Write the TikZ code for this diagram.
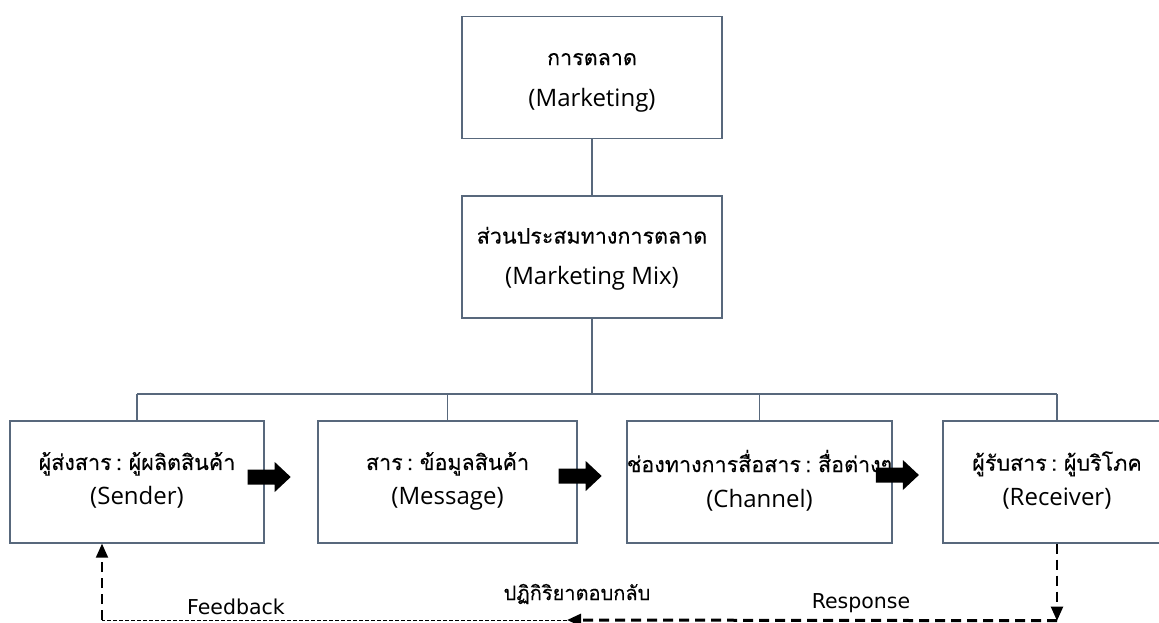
\documentclass[tikz,border=0pt]{standalone}
\usepackage{fontspec}
\setmainfont{Open Sans}
\newfontfamily\thaifont[Script=Thai, WordSpace=0.6, FakeBold=0.3]{Loma}
\newfontfamily\labelfont{DejaVu Sans}
\usetikzlibrary{arrows.meta,calc}
\definecolor{boxline}{RGB}{88,104,124}
\newcommand{\thailine}[1]{{\thaifont\fontsize{21.5}{21.5}\selectfont #1}}
\newcommand{\lowpad}{\rule[-7pt]{0pt}{0pt}}
\newcommand{\toppad}{\rule[-1pt]{0pt}{0pt}}
\tikzset{
  box/.style={draw=boxline, line width=1.4pt, fill=white, minimum height=122pt,
    inner sep=0pt, align=center, font=\fontsize{24}{41}\selectfont},
  lowbox/.style={box, font=\fontsize{24}{35}\selectfont},
  link/.style={draw=boxline, line width=1.4pt},
  pics/fatarrow/.style={code={
    \fill[black] (0,-7.5) -- (27,-7.5) -- (27,-15) -- (43,0) -- (27,15)
      -- (27,7.5) -- (0,7.5) -- cycle;}},
  fbtip/.style={-{Triangle[length=14pt,width=12pt]}},
  fbvert/.style={line width=2pt, dash pattern=on 10pt off 6pt},
  fbthick/.style={line width=3pt, dash pattern=on 10pt off 6pt},
  fbthin/.style={line width=1pt, dash pattern=on 4pt off 2pt},
  fblabel/.style={inner sep=0pt, font=\labelfont\fontsize{20.5}{22}\selectfont}
}
\begin{document}
\begin{tikzpicture}[x=1pt,y=-1pt]
\useasboundingbox (0,0) rectangle (1159,622);

% hierarchy boxes
\node[box, minimum width=260pt] (mkt) at (592,77.5)
  {\rule{0pt}{22pt}\thailine{การตลาด}\\(Marketing)\toppad};
\node[box, minimum width=260pt] (mix) at (592,257)
  {\rule{0pt}{20pt}\thailine{ส่วนประสมทางการตลาด}\\(Marketing Mix)\toppad};

% communication chain
\node[lowbox, minimum width=254pt] (send) at (137,482)
  {\thailine{ผู้ส่งสาร : ผู้ผลิตสินค้า}\\(Sender)\lowpad};
\node[lowbox, minimum width=259pt] (msg) at (447.5,482)
  {\thailine{สาร : ข้อมูลสินค้า}\\(Message)\lowpad};
\node[lowbox, minimum width=259pt] (chan) at (759.5,482)
  {\thailine{ช่องทางการสื่อสาร : สื่อต่างๆ}\\(Channel)\lowpad};
\node[lowbox, minimum width=228pt] (recv) at (1057,482)
  {\thailine{ผู้รับสาร : ผู้บริโภค}\\(Receiver)\lowpad};

% tree connectors
\coordinate (bus) at (592,394);
\draw[link] (mkt.south) -- (mix.north);
\draw[link] (mix.south) -- (bus);
\draw[link] (send.north |- bus) -- (recv.north |- bus);
\foreach \b in {send,msg,chan,recv}
  \draw[link] (\b.north |- bus) -- (\b.north);

% block arrows between the chain boxes
\pic at ($(send.east)+(-17,-5)$) {fatarrow};
\pic at ($(msg.east)+(-19,-6)$) {fatarrow};
\pic at ($(chan.east)+(-17,-7)$) {fatarrow};

% response / feedback loop
\coordinate (rc) at ($(recv.south)+(0,77)$);
\coordinate (mid) at (567,620);
\coordinate (lc) at (102,620);
\draw[fbvert, fbtip] (recv.south) -- (rc);
\draw[fbthick, fbtip] (rc) -- (mid);
\draw[fbthin] (mid) -- (lc);
\draw[fbvert, fbtip] (lc) -- (lc |- send.south);

\node[fblabel] (fbl) at (236,607) {Feedback};
\node[fblabel] (thl) at (577,594) {\thaifont\fontsize{20}{22}\selectfont ปฏิกิริยาตอบกลับ};
\node[fblabel] (rsl) at (861,603) {Response};
\end{tikzpicture}
\end{document}
